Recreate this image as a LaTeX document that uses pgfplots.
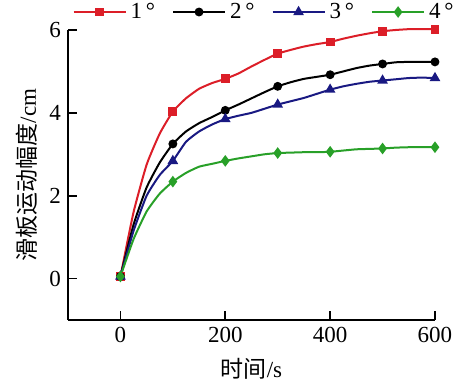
\documentclass[border=0pt]{standalone}
\usepackage{pgfplots}
\pgfplotsset{compat=1.18}
\usepackage{fontspec}
\setmainfont{Liberation Serif}
\newfontfamily\cjk{Noto Sans CJK SC}
\definecolor{cred}{RGB}{220,30,40}
\definecolor{cblue}{RGB}{25,25,130}
\definecolor{cgreen}{RGB}{40,160,40}
\pgfplotstableread{
x r b u g
0 0.05 0.05 0.05 0.05
25 1.6 1.3 1.15 0.95
50 2.75 2.2 2.0 1.62
75 3.5 2.8 2.5 2.05
100 4.03 3.25 2.84 2.34
125 4.35 3.55 3.3 2.55
150 4.58 3.75 3.55 2.7
175 4.72 3.9 3.72 2.77
200 4.82 4.06 3.85 2.84
225 4.95 4.2 3.93 2.9
250 5.12 4.35 4.0 2.95
275 5.28 4.5 4.1 3.0
300 5.43 4.64 4.20 3.03
325 5.52 4.74 4.28 3.04
350 5.60 4.82 4.36 3.05
375 5.66 4.87 4.46 3.05
400 5.71 4.92 4.56 3.06
425 5.79 5.0 4.64 3.09
450 5.86 5.08 4.70 3.12
475 5.92 5.14 4.75 3.13
500 5.97 5.18 4.78 3.14
525 6.0 5.22 4.81 3.16
550 6.02 5.23 4.84 3.17
575 6.02 5.23 4.85 3.17
600 6.02 5.23 4.84 3.17
}\data
\pgfplotsset{
  lmark/.style={
    legend image code/.code={
      \draw[##1,mark=none] (0pt,0pt) -- (26pt,0pt);
      \draw[##1,only marks] plot coordinates {(13pt,0pt)};
    }
  }
}
\begin{document}
\begin{tikzpicture}
\begin{axis}[
  scale only axis,
  width=183.5pt, height=145pt,
  xmin=-100, xmax=600, ymin=-1, ymax=6,
  axis x line=bottom, axis y line=left,
  axis line style={-, line width=0.8pt},
  xtick={0,200,400,600}, ytick={0,2,4,6},
  tick align=inside, major tick length=4.5pt,
  tick style={line width=0.8pt, black},
  every tick label/.append style={font=\rmfamily\fontsize{11.5}{13}\selectfont},
  /pgf/number format/assume math mode=true,
  xlabel={{\cjk 时间}/s},
  ylabel={{\cjk 滑板运动幅度}/cm},
  label style={font=\rmfamily\fontsize{11.5}{13}\selectfont},
  xlabel style={yshift=-1pt},
  ylabel style={yshift=-1pt},
  mark repeat=4,
  legend columns=4,
  legend style={draw=none, fill=none, at={(0.537,1.062)}, anchor=center,
    font=\rmfamily\fontsize{11.5}{13}\selectfont,
    /tikz/every even column/.append style={column sep=6.5pt}},
  legend cell align=left,
  clip=false,
]
\addplot[cred, line width=1pt, smooth, tension=0.3, mark=square*, mark size=1.7pt, lmark] table[x=x,y=r] {\data};
\addlegendentry{1\,°}
\addplot[black, line width=1pt, smooth, tension=0.3, mark=*, mark size=1.7pt, lmark] table[x=x,y=b] {\data};
\addlegendentry{2\,°}
\addplot[cblue, line width=1pt, smooth, tension=0.3, mark=triangle*, mark size=2.1pt, lmark] table[x=x,y=u] {\data};
\addlegendentry{3\,°}
\addplot[cgreen, line width=1pt, smooth, tension=0.3, mark=diamond*, mark size=2.1pt, lmark] table[x=x,y=g] {\data};
\addlegendentry{4\,°}
\coordinate (bl) at (rel axis cs:-0.1853,-0.2379);
\coordinate (tr) at (rel axis cs:1.0845,1.1034);
\end{axis}
\pgfresetboundingbox
\useasboundingbox (bl) rectangle (tr);
\end{tikzpicture}
\end{document}
